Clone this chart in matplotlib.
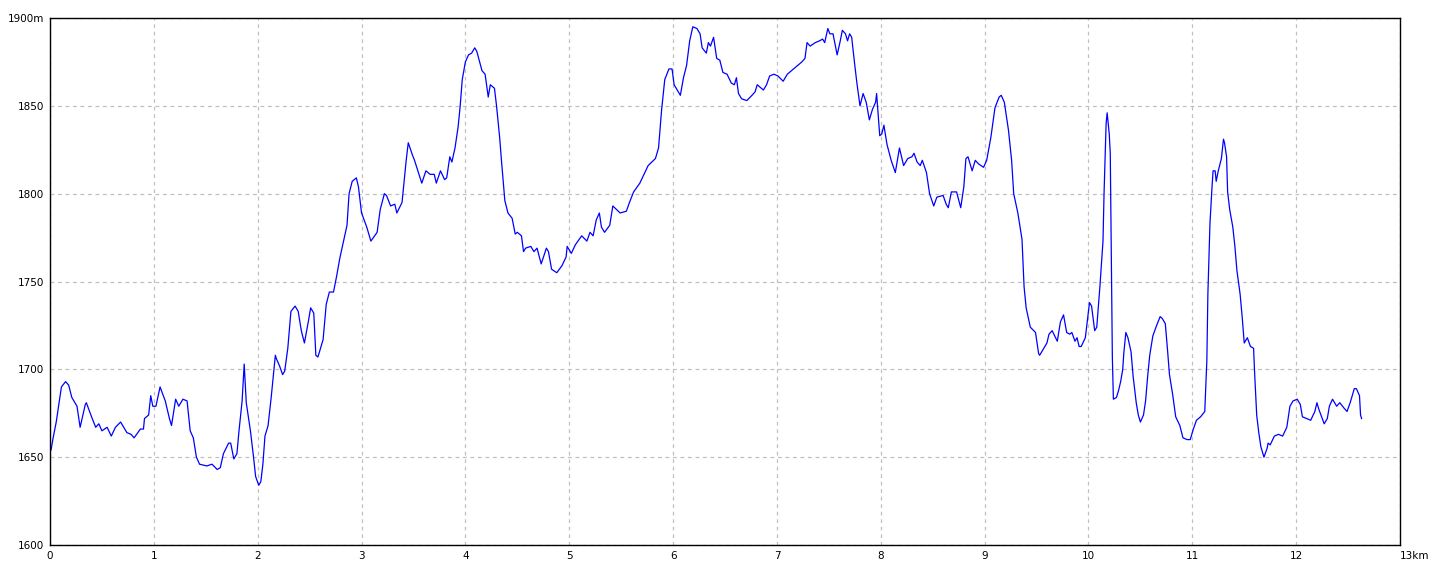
import matplotlib
matplotlib.use("Agg")
import matplotlib.pyplot as plt

# distance (km) and elevation (m)
dist_km = [
    0.00, 0.01, 0.03, 0.06, 0.11, 0.15, 0.18, 0.21, 0.26, 0.29, 0.34, 0.35, 0.40, 0.44, 0.47,
    0.50, 0.55, 0.59, 0.63, 0.68, 0.74, 0.78, 0.81, 0.87, 0.90, 0.91, 0.95, 0.97, 0.99, 1.02,
    1.06, 1.11, 1.15, 1.17, 1.21, 1.24, 1.28, 1.32, 1.35, 1.38, 1.41, 1.44, 1.51, 1.56, 1.61,
    1.64, 1.67, 1.72, 1.74, 1.77, 1.80, 1.82, 1.85, 1.87, 1.89, 1.93, 1.96, 1.98, 2.01, 2.03,
    2.05, 2.07, 2.10, 2.13, 2.17, 2.18, 2.21, 2.24, 2.26, 2.29, 2.32, 2.36, 2.39, 2.42, 2.45,
    2.49, 2.51, 2.54, 2.56, 2.58, 2.63, 2.66, 2.69, 2.73, 2.76, 2.79, 2.83, 2.86, 2.88, 2.91,
    2.95, 2.97, 3.00, 3.05, 3.09, 3.15, 3.18, 3.22, 3.24, 3.28, 3.32, 3.34, 3.39, 3.43, 3.45,
    3.49, 3.51, 3.58, 3.62, 3.66, 3.70, 3.72, 3.76, 3.80, 3.82, 3.85, 3.87, 3.90, 3.93, 3.95,
    3.97, 4.00, 4.03, 4.06, 4.09, 4.11, 4.16, 4.19, 4.22, 4.24, 4.28, 4.30, 4.33, 4.35, 4.38,
    4.41, 4.45, 4.48, 4.50, 4.54, 4.56, 4.58, 4.63, 4.66, 4.69, 4.73, 4.78, 4.80, 4.83, 4.88,
    4.93, 4.97, 4.98, 5.02, 5.06, 5.12, 5.17, 5.20, 5.23, 5.26, 5.29, 5.31, 5.34, 5.39, 5.42,
    5.49, 5.55, 5.58, 5.62, 5.68, 5.76, 5.83, 5.86, 5.89, 5.92, 5.96, 5.99, 6.01, 6.05, 6.07,
    6.10, 6.13, 6.16, 6.19, 6.23, 6.26, 6.28, 6.32, 6.34, 6.36, 6.39, 6.42, 6.45, 6.48, 6.52,
    6.56, 6.59, 6.61, 6.63, 6.66, 6.71, 6.76, 6.79, 6.81, 6.87, 6.90, 6.93, 6.97, 7.01, 7.06,
    7.10, 7.14, 7.18, 7.24, 7.27, 7.29, 7.32, 7.37, 7.41, 7.44, 7.46, 7.49, 7.51, 7.54, 7.56,
    7.58, 7.61, 7.63, 7.66, 7.68, 7.70, 7.72, 7.75, 7.77, 7.80, 7.83, 7.86, 7.89, 7.92, 7.95,
    7.96, 7.99, 8.01, 8.03, 8.06, 8.10, 8.14, 8.16, 8.18, 8.22, 8.26, 8.30, 8.32, 8.35, 8.38,
    8.40, 8.44, 8.47, 8.51, 8.54, 8.60, 8.63, 8.65, 8.68, 8.73, 8.77, 8.80, 8.82, 8.84, 8.88,
    8.91, 8.94, 8.99, 9.02, 9.06, 9.10, 9.14, 9.16, 9.19, 9.23, 9.26, 9.28, 9.32, 9.36, 9.38,
    9.40, 9.44, 9.49, 9.52, 9.53, 9.56, 9.60, 9.62, 9.65, 9.70, 9.73, 9.76, 9.79, 9.82, 9.84,
    9.87, 9.89, 9.91, 9.93, 9.97, 9.99, 10.01, 10.03, 10.06, 10.08, 10.11, 10.14, 10.15, 10.17, 10.18,
    10.20, 10.21, 10.22, 10.23, 10.24, 10.27, 10.29, 10.31, 10.33, 10.34, 10.36, 10.38, 10.41, 10.43, 10.46,
    10.48, 10.50, 10.53, 10.55, 10.57, 10.59, 10.62, 10.65, 10.69, 10.71, 10.74, 10.76, 10.78, 10.81, 10.84,
    10.88, 10.91, 10.95, 10.98, 11.01, 11.04, 11.08, 11.12, 11.14, 11.15, 11.17, 11.19, 11.20, 11.22, 11.23,
    11.25, 11.28, 11.30, 11.31, 11.33, 11.34, 11.36, 11.39, 11.41, 11.43, 11.46, 11.48, 11.50, 11.53, 11.56,
    11.59, 11.60, 11.62, 11.64, 11.66, 11.69, 11.72, 11.73, 11.75, 11.79, 11.83, 11.87, 11.91, 11.94, 11.97,
    12.01, 12.04, 12.06, 12.10, 12.14, 12.18, 12.20, 12.22, 12.27, 12.30, 12.32, 12.35, 12.39, 12.42, 12.46,
    12.49, 12.52, 12.56, 12.58, 12.61, 12.62, 12.63,
]
elev_m = [
    1655, 1654, 1661, 1670, 1690, 1693, 1691, 1684, 1679, 1667, 1680, 1681, 1673, 1667, 1669,
    1665, 1667, 1662, 1667, 1670, 1664, 1663, 1661, 1666, 1666, 1672, 1674, 1685, 1679, 1679,
    1690, 1682, 1672, 1668, 1683, 1679, 1683, 1682, 1665, 1661, 1650, 1646, 1645, 1646, 1643,
    1644, 1652, 1658, 1658, 1649, 1652, 1665, 1682, 1703, 1681, 1665, 1650, 1639, 1634, 1636,
    1646, 1662, 1668, 1684, 1708, 1706, 1702, 1697, 1699, 1712, 1733, 1736, 1733, 1722, 1715,
    1728, 1735, 1732, 1708, 1707, 1717, 1737, 1744, 1744, 1753, 1763, 1774, 1782, 1800, 1807,
    1809, 1804, 1789, 1781, 1773, 1778, 1791, 1800, 1799, 1793, 1794, 1789, 1795, 1819, 1829,
    1822, 1819, 1806, 1813, 1811, 1811, 1806, 1813, 1808, 1809, 1821, 1818, 1826, 1838, 1850,
    1865, 1875, 1879, 1880, 1883, 1881, 1870, 1868, 1855, 1862, 1860, 1850, 1832, 1817, 1796,
    1789, 1786, 1777, 1778, 1776, 1767, 1769, 1770, 1767, 1769, 1760, 1769, 1767, 1757, 1755,
    1759, 1764, 1770, 1766, 1771, 1776, 1773, 1778, 1776, 1785, 1789, 1781, 1778, 1782, 1793,
    1789, 1790, 1795, 1801, 1806, 1816, 1820, 1826, 1848, 1865, 1871, 1871, 1862, 1858, 1856,
    1866, 1873, 1887, 1895, 1894, 1891, 1883, 1880, 1886, 1884, 1889, 1877, 1876, 1869, 1868,
    1863, 1862, 1866, 1857, 1854, 1853, 1856, 1858, 1862, 1859, 1862, 1867, 1868, 1867, 1864,
    1868, 1870, 1872, 1875, 1877, 1886, 1884, 1886, 1887, 1888, 1886, 1894, 1891, 1891, 1885,
    1879, 1887, 1893, 1891, 1887, 1891, 1889, 1873, 1863, 1850, 1857, 1852, 1842, 1848, 1852,
    1857, 1833, 1834, 1839, 1828, 1819, 1812, 1819, 1826, 1816, 1820, 1821, 1823, 1818, 1816,
    1819, 1812, 1800, 1793, 1798, 1799, 1794, 1792, 1801, 1801, 1792, 1804, 1820, 1821, 1813,
    1819, 1817, 1815, 1819, 1832, 1849, 1855, 1856, 1852, 1836, 1819, 1800, 1789, 1774, 1747,
    1735, 1724, 1721, 1709, 1708, 1711, 1715, 1720, 1722, 1716, 1727, 1731, 1721, 1720, 1721,
    1716, 1718, 1713, 1713, 1718, 1728, 1738, 1736, 1722, 1724, 1747, 1773, 1800, 1840, 1846,
    1834, 1823, 1767, 1707, 1683, 1684, 1688, 1693, 1700, 1709, 1721, 1718, 1710, 1696, 1681,
    1674, 1670, 1674, 1682, 1696, 1708, 1719, 1724, 1730, 1729, 1726, 1712, 1697, 1686, 1673,
    1668, 1661, 1660, 1660, 1666, 1671, 1673, 1676, 1705, 1743, 1783, 1804, 1813, 1813, 1807,
    1813, 1820, 1831, 1829, 1821, 1801, 1791, 1781, 1770, 1756, 1743, 1730, 1715, 1718, 1713,
    1712, 1698, 1674, 1664, 1656, 1650, 1655, 1658, 1657, 1662, 1663, 1662, 1667, 1679, 1682,
    1683, 1680, 1673, 1672, 1671, 1676, 1681, 1677, 1669, 1672, 1679, 1683, 1679, 1681, 1678,
    1676, 1681, 1689, 1689, 1685, 1674, 1672,
]

x_ticks = list(range(0, 14))
x_labels = [str(k) for k in range(0, 13)] + ["13km"]
y_ticks = [1600, 1650, 1700, 1750, 1800, 1850, 1900]
y_labels = ["1600", "1650", "1700", "1750", "1800", "1850", "1900m"]

fig = plt.figure(figsize=(14.4, 5.76), dpi=100)
ax = fig.add_axes([50 / 1440, 31 / 576, 1350 / 1440, 527 / 576])

ax.plot(dist_km, elev_m, color="#0000ff", linewidth=0.9)

ax.set_xlim(0, 13)
ax.set_ylim(1600, 1900)
ax.set_xticks(x_ticks)
ax.set_xticklabels(x_labels)
ax.set_yticks(y_ticks)
ax.set_yticklabels(y_labels)
ax.tick_params(length=0, labelsize=7.5, pad=4)
ax.get_xticklabels()[-1].set_horizontalalignment("left")

ax.grid(True, color="#c0c0c0", linestyle=(0, (3, 3)), linewidth=0.9)
for s in ax.spines.values():
    s.set_color("black")
    s.set_linewidth(1.0)

fig.savefig("out.png", dpi=100)
